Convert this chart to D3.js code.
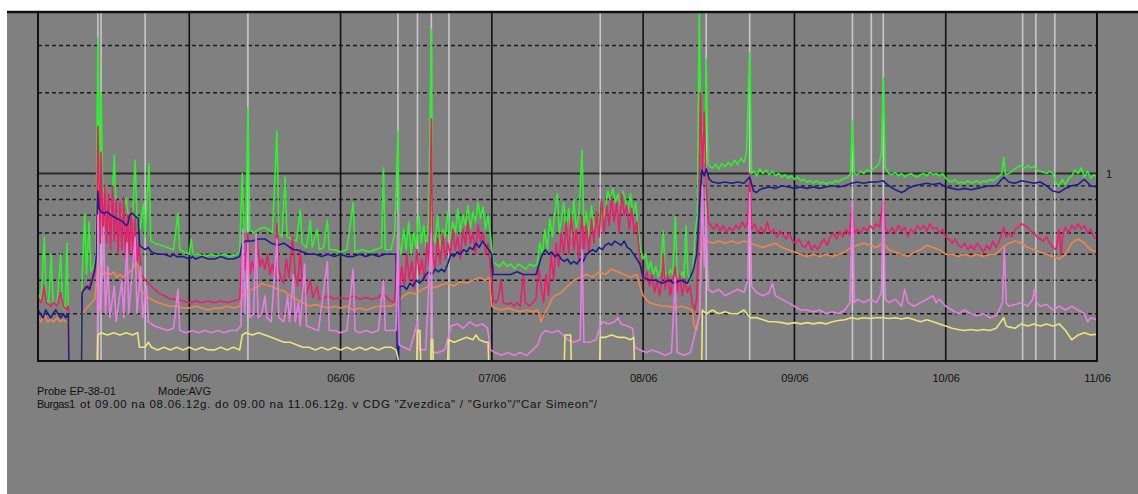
<!DOCTYPE html>
<html>
<head>
<meta charset="utf-8">
<script src="https://cdn.jsdelivr.net/npm/d3@7"></script>
<style>
  html, body { margin: 0; padding: 0; background: #ffffff; }
  svg { display: block; font-family: "Liberation Sans", Arial, sans-serif; }
</style>
</head>
<body>
<svg id="chart" width="1138" height="494"></svg>
<script>
// Probe EP-38-01, averaged readings, 04/06 – 11/06 (hours since 04/06 00:00, value)
const periodStart = "2012-06-04";
const dayTicks = ["2012-06-04", "2012-06-05", "2012-06-06", "2012-06-07", "2012-06-08", "2012-06-09", "2012-06-10", "2012-06-11"];
const dashedLevels = [0.3, 0.4, 0.5, 0.6, 0.7, 0.8, 0.9, 2, 3];
const refLevel = 1;
const refLabel = "1";
const markerHours = [9.5, 10.0, 17.0, 33.3, 57.1, 60.2, 62.4, 65.2, 89.2, 106.0, 112.9, 129.2, 132.2, 134.1, 156.2, 158.3, 161.3];
const captionLine1 = ["Probe EP-38-01", "Mode:AVG"];
const captionLine2 = ["Burgas1", "ot 09.00 na 08.06.12g. do 09.00 na 11.06.12g. v CDG \"Zvezdica\" / \"Gurko\"/\"Car Simeon\"/"];

const greenSeries = [[0,0.36],[0.5,0.34],[1.0,0.58],[1.3,0.34],[1.7,0.33],[2.1,0.5],[2.4,0.33],[3.0,0.32],[3.6,0.5],[3.9,0.32],[4.3,0.31],[4.6,0.55],[4.8,0.31],[4.9,0],[6.8,0],
[7.0,0.4],[7.4,0.71],[7.7,0.42],[8.1,0.66],[8.4,0.43],[8.8,0.45],[9.2,0.5],[9.5,3.2],[9.7,1.5],[9.85,0.8],[10.0,2.0],[10.3,0.8],[10.7,0.72],[11.2,0.7],[11.7,0.74],[12.1,1.17],[12.4,0.72],[13.0,0.68],[13.5,0.72],[14.0,0.81],[14.3,0.7],[15.0,0.68],[15.4,1.12],[15.7,0.7],[16.2,0.62],[16.7,0.77],[17.0,0.58],[17.6,1.09],[17.9,0.56],[18.5,0.55],[19.5,0.54],[20.5,0.53],[21.5,0.52],[22.2,0.71],[22.5,0.52],[23.2,0.51],[24.0,0.5],[24.3,0.57],[24.6,0.5],[25.5,0.5],[26.5,0.49],[27.5,0.5],[28.5,0.49],[29.5,0.5],[30.5,0.49],[31.5,0.5],[32.0,0.51],
[32.4,1.0],[32.7,0.6],[33.0,0.62],[33.3,1.76],[33.6,0.62],[34.2,0.6],[35,0.62],[35.8,0.63],[36.5,0.62],[37.2,0.6],[37.9,1.44],[38.2,0.6],[38.7,0.58],[39.2,0.97],[39.5,0.58],[40.2,0.57],[41.0,0.56],[41.6,0.73],[41.9,0.55],[42.6,0.53],[43.2,0.67],[43.5,0.53],[44.3,0.62],[44.6,0.52],[45.3,0.53],[45.9,0.67],[46.2,0.52],[47,0.52],[48,0.51],[49,0.52],[50,0.78],[50.3,0.51],[51.5,0.52],[52.5,0.51],[53.5,0.52],[54.5,0.53],[54.8,1.05],[55.1,0.52],[56,0.52],[56.6,0.6],[57.1,1.44],[57.3,0.55],
[57.6,0.5],[58.0,0.62],[58.4,0.52],[58.8,0.66],[59.2,0.5],[59.6,0.6],[60.0,0.53],[60.4,0.7],[60.8,0.55],[61.2,0.64],[61.6,0.52],[62.0,0.68],[62.4,3.45],[62.6,0.6],[63.0,0.55],[63.4,0.7],[63.8,0.52],[64.2,0.62],[64.6,0.58],[65.0,0.72],[65.4,0.56],[65.8,0.66],[66.2,0.6],[66.6,0.74],[67.0,0.6],[67.4,0.7],[67.8,0.64],[68.2,0.76],[68.6,0.62],[69.0,0.72],[69.4,0.66],[69.8,0.78],[70.2,0.68],[70.6,0.75],[71.0,0.62],[71.4,0.7],[71.8,0.58],[72.2,0.47],
[72.6,0.46],[73.2,0.45],[73.8,0.47],[74.4,0.45],[75.0,0.46],[75.6,0.44],[76.2,0.46],[76.8,0.45],[77.4,0.44],[78.0,0.46],[78.6,0.45],[79.2,0.46],[79.6,0.55],[80.0,0.5],[80.4,0.62],[80.8,0.52],[81.2,0.68],[81.6,0.58],[82.0,0.72],[82.4,0.84],[82.7,0.6],
[83.0,0.66],[83.4,0.78],[83.8,0.6],[84.2,0.74],[84.6,0.58],[85.0,0.8],[85.4,0.62],[85.8,0.7],[86.3,1.22],[86.6,0.64],[87.0,0.72],[87.4,0.58],[87.8,0.76],[88.2,0.62],[88.6,0.7],[89.0,0.6],[89.2,0.78],[89.6,0.66],[90.0,0.74],[90.4,0.86],[90.8,0.8],[91.2,0.88],[91.6,0.78],[92.0,0.84],[92.4,0.76],[92.8,0.86],[93.2,0.8],[93.6,0.72],[94.0,0.84],[94.4,0.7],[94.8,0.78],[95.2,0.62],[95.6,0.52],[96.0,0.48],[96.4,0.5],
[96.8,0.44],[97.2,0.47],[97.6,0.42],[98.0,0.45],[98.4,0.41],[98.8,0.44],[99.2,0.61],[99.5,0.43],[99.9,0.4],[100.3,0.44],[100.7,0.42],[101.1,0.69],[101.4,0.42],[101.8,0.4],[102.2,0.43],[102.5,0.41],[102.8,0.64],[103.1,0.42],[103.5,0.4],[103.9,0.44],[104.3,0.62],[104.6,0.7],[104.9,4.5],[105.2,1.2],[105.5,1.5],[105.8,1.1],[106.0,2.67],[106.3,1.08],[106.8,1.05],
[107.0,1.05],[107.5,1.08],[108.0,1.04],[108.5,1.09],[109.0,1.06],[109.5,1.1],[110.0,1.07],[110.5,1.12],[111.0,1.08],[111.5,1.14],[112.0,1.1],[112.4,1.2],[112.9,2.8],[113.2,1.0],[113.6,1.02],[114.0,0.98],[114.5,1.04],[115.0,1.0],[115.5,1.03],[116.0,0.99],[116.5,1.02],[117.0,0.98],[117.5,1.0],[118.0,0.97],[118.5,0.99],[119.0,0.96],[119.5,0.98],[120.0,0.95],[120.5,0.97],[121,0.94],[121.5,0.95],[122,0.93],[122.5,0.94],[123,0.92],[123.5,0.94],[124,0.92],[124.5,0.93],[125,0.91],[125.5,0.93],[126,0.92],[126.5,0.94],[127,0.93],[127.5,0.95],[128,0.96],[128.5,0.97],[128.9,1.0],[129.2,1.57],[129.5,1.0],[130,0.99],[130.5,1.02],[131,1.0],[131.5,1.03],[132,1.02],[132.5,1.04],[133,1.06],[133.5,1.1],[133.8,1.2],[134.1,2.27],[134.4,1.05],[135,1.0],[135.5,0.99],[136,1.01],[136.5,0.98],[137,1.0],[137.5,0.97],[138,0.99],[138.5,1.0],[139,0.98],[139.5,0.97],[140,0.99],
[140.5,1.0],[141,0.98],[141.5,1.01],[142,0.99],[142.5,1.0],[143,0.98],[143.5,1.0],[144,0.96],[144.5,0.94],[145,0.93],[145.5,0.95],[146,0.92],[146.5,0.93],[147,0.92],[147.5,0.94],[148,0.92],[148.5,0.93],[149,0.94],[149.5,0.92],[150,0.94],[150.5,0.93],[151,0.95],[151.5,0.94],[152,0.96],[152.5,0.98],[152.9,1.0],[153.2,1.15],[153.5,0.99],[154,1.0],[154.5,1.02],[155,1.04],[155.5,1.06],[156,1.07],[156.5,1.05],[157,1.07],[157.5,1.05],[158,1.06],[158.5,1.03],[159,1.02],[159.5,1.01],[160,1.0],[160.5,1.02],[161,1.0],[161.5,0.92],[162,0.9],[162.5,0.95],[163,0.91],[163.5,0.96],[164,0.98],[164.5,1.03],[165,1.0],[165.5,1.05],[166,0.97],[166.5,1.02],[167,0.96],[167.5,0.99],[168,0.97]];

const navySeries = [[0,0.31],[0.4,0.3],[0.8,0.29],[1.2,0.31],[1.6,0.3],[2.0,0.29],[2.4,0.3],[2.8,0.31],[3.2,0.3],[3.6,0.29],[4.0,0.3],[4.4,0.29],[4.8,0.3],[4.9,0],[6.9,0],[7.0,0.36],[7.4,0.37],[7.8,0.38],[8.2,0.37],[8.6,0.4],[9.0,0.44],[9.3,0.5],[9.5,0.86],[9.7,0.74],[10,0.72],[10.5,0.71],[11,0.72],[11.5,0.7],[12,0.69],[12.5,0.68],[13,0.67],[13.5,0.66],[14,0.64],[14.3,0.65],[14.5,0.7],[15,0.71],[15.5,0.69],[15.9,0.68],[16.1,0.54],[16.5,0.53],[17,0.52],[17.5,0.53],[18,0.51],[19,0.5],[20,0.5],[21,0.49],[21.5,0.5],[22,0.49],[23,0.49],[24,0.48],[24.5,0.49],[25,0.48],[26,0.49],[27,0.48],[28,0.48],[29,0.49],[30,0.48],[31,0.48],[32,0.49],
[32.4,0.55],[33,0.56],[34,0.56],[35,0.57],[36,0.57],[37,0.55],[38,0.54],[39,0.55],[40,0.53],[40.5,0.52],[41,0.52],[42,0.51],[43,0.5],[44,0.5],[45,0.49],[46,0.5],[47,0.49],[48,0.5],[49,0.49],[50,0.49],[51,0.5],[52,0.49],[53,0.5],[54,0.49],[55,0.5],[56,0.5],[56.8,0.5],[57.0,0],[57.2,0],[57.4,0.38],[58,0.38],[58.5,0.37],[59,0.39],[59.5,0.38],[60,0.4],[60.5,0.39],[61,0.4],[61.5,0.42],[62,0.43],[62.5,0.42],[63,0.44],[63.5,0.43],[64,0.44],[64.5,0.43],[65,0.46],[65.5,0.5],[66,0.49],[66.5,0.51],[67,0.5],[67.5,0.52],[68,0.51],[68.5,0.53],[69,0.52],[69.5,0.55],[70,0.53],[70.5,0.56],[71,0.54],[71.5,0.52],[72,0.5],[72.2,0.42],[73,0.42],[74,0.42],[75,0.42],[76,0.43],[77,0.42],[78,0.42],[79,0.42],[79.5,0.46],[80,0.5],[80.5,0.52],[81,0.5],[81.5,0.51],[82,0.49],[82.5,0.5],[83,0.48],[83.5,0.47],[84,0.48],[84.5,0.46],[85,0.47],[85.5,0.46],[86,0.48],[86.5,0.47],[87,0.5],[87.5,0.51],[88,0.52],[88.5,0.51],[89,0.53],[89.5,0.52],[90,0.54],[90.5,0.55],[91,0.54],[91.5,0.56],[92,0.55],[92.5,0.54],[93,0.56],[93.5,0.53],[94,0.52],[94.5,0.5],[95,0.48],[95.5,0.46],[96,0.41],[97,0.4],[98,0.4],[99,0.39],[100,0.4],[101,0.39],[102,0.4],[103,0.39],[103.5,0.41],[104,0.44],[104.5,0.5],[105,0.8],[105.3,1.03],[105.7,0.98],[106,1.04],[106.5,0.95],[107,0.93],[108,0.92],[109,0.93],[110,0.92],[111,0.93],[112,0.92],[112.9,0.97],[113.5,0.86],[114,0.85],[114.5,0.87],[115,0.88],[116,0.89],[117,0.88],[118,0.9],[119,0.89],[120,0.88],[121,0.89],[122,0.88],[123,0.89],[124,0.88],[125,0.89],[126,0.9],[127,0.89],[128,0.9],[129,0.92],[130,0.93],[131,0.92],[132,0.93],[133,0.93],[134,0.94],[135,0.9],[136,0.87],[137,0.85],[137.5,0.86],[138,0.88],[139,0.9],[140,0.91],[141,0.92],[142,0.91],[143,0.92],[144,0.89],[145,0.88],[146,0.87],[147,0.88],[148,0.87],[149,0.88],[150,0.89],[151,0.9],[152,0.9],[153.2,0.97],[154,0.93],[155,0.92],[156,0.94],[157,0.93],[158,0.92],[159,0.93],[160,0.9],[161,0.86],[162,0.85],[163,0.88],[164,0.9],[165,0.91],[166,0.95],[167,0.9],[168,0.89]];

const crimsonSeries = [[0,0.34],[0.5,0.33],[1.0,0.38],[1.3,0.33],[2,0.32],[2.5,0.33],[3,0.32],[3.6,0.36],[4,0.32],[4.5,0.31],[4.8,0.32],[4.9,0],[6.9,0],[7.0,0.36],[7.5,0.38],[8,0.37],[8.5,0.4],[9.0,0.42],[9.3,0.5],[9.5,1.5],[9.7,0.9],[9.9,0.55],[10.0,1.2],[10.3,0.6],[10.6,0.88],[10.9,0.55],[11.2,0.84],[11.5,0.52],[11.8,0.9],[12.1,0.56],[12.4,0.8],[12.7,0.5],[13.0,0.78],[13.3,0.52],[13.6,0.82],[13.9,0.48],[14.2,0.7],[14.5,0.5],[14.8,0.74],[15.1,0.47],[15.4,0.68],[15.7,0.46],[16.0,0.55],[16.4,0.42],[17,0.4],[17.5,0.39],[18,0.38],[19,0.36],[20,0.35],[21,0.34],[22,0.34],[23,0.335],[24,0.33],[25,0.335],[26,0.33],[27,0.335],[28,0.33],[29,0.335],[30,0.33],[31,0.335],[32,0.34],
[32.4,0.5],[32.8,0.44],[33.3,0.6],[33.6,0.42],[34,0.47],[34.4,0.43],[34.8,0.56],[35.2,0.45],[35.6,0.48],[36,0.44],[36.4,0.5],[36.8,0.42],[37.2,0.46],[37.6,0.41],[37.9,0.65],[38.2,0.44],[38.6,0.4],[39,0.39],[39.4,0.48],[39.8,0.41],[40.4,0.58],[40.8,0.42],[41.2,0.38],[41.6,0.52],[42,0.36],[42.5,0.35],[43.2,0.4],[43.6,0.345],[44.3,0.38],[44.6,0.34],[45.5,0.345],[46,0.35],[47,0.34],[48,0.345],[49,0.34],[50,0.35],[51,0.34],[52,0.345],[53,0.34],[54,0.345],[54.8,0.36],[55.5,0.34],[56.5,0.33],[57.1,0.5],[57.3,0.36],[57.7,0.45],[58.1,0.38],[58.5,0.5],[58.9,0.4],[59.3,0.47],[59.7,0.37],[60.1,0.52],[60.5,0.42],[60.9,0.48],[61.3,0.4],[61.7,0.55],[62.1,0.45],[62.4,1.6],[62.6,0.5],[63,0.44],[63.4,0.58],[63.8,0.46],[64.2,0.6],[64.6,0.48],[65,0.55],[65.4,0.5],[65.8,0.62],[66.2,0.52],[66.6,0.58],[67,0.48],[67.4,0.62],[67.8,0.54],[68.2,0.66],[68.6,0.55],[69,0.6],[69.4,0.5],[69.8,0.64],[70.2,0.56],[70.6,0.6],[71,0.5],[71.4,0.55],[71.8,0.45],[72.2,0.34],[72.6,0.33],[73,0.34],[73.5,0.4],[73.8,0.33],[74.5,0.325],[75,0.33],[75.5,0.32],[76,0.33],[76.5,0.32],[77,0.42],[77.3,0.33],[78,0.32],[78.5,0.33],[79,0.34],[79.4,0.45],[79.8,0.38],[80.2,0.33],[80.6,0.42],[81,0.35],[81.4,0.5],[81.8,0.4],[82.2,0.55],[82.6,0.45],[83,0.6],[83.4,0.5],[83.8,0.66],[84.2,0.5],[84.6,0.7],[85,0.52],[85.4,0.62],[85.8,0.48],[86.3,0.7],[86.6,0.52],[87,0.64],[87.4,0.5],[87.8,0.68],[88.2,0.55],[88.6,0.72],[89,0.58],[89.4,0.8],[89.8,0.6],[90.2,0.76],[90.6,0.64],[91,0.82],[91.4,0.66],[91.8,0.78],[92.2,0.6],[92.6,0.84],[93,0.7],[93.4,0.76],[93.8,0.62],[94.2,0.74],[94.6,0.6],[95,0.66],[95.4,0.5],[95.8,0.42],[96.2,0.4],[96.6,0.43],[97,0.38],[97.4,0.42],[97.8,0.36],[98.2,0.4],[98.6,0.35],[99,0.41],[99.2,0.5],[99.5,0.37],[99.9,0.42],[100.3,0.35],[100.7,0.4],[101.1,0.45],[101.4,0.36],[101.8,0.42],[102.2,0.35],[102.6,0.4],[103,0.36],[103.4,0.38],[103.8,0.33],[104.2,0.31],[104.5,0.34],[104.8,0.6],[105.1,2.0],[105.4,1.0],[105.7,1.7],[106,0.9],[106.3,0.66],[106.7,0.64],[107.2,0.62],[107.7,0.65],[108.2,0.61],[108.7,0.64],[109.2,0.6],[109.7,0.63],[110.2,0.61],[110.7,0.64],[111.2,0.62],[111.7,0.66],[112.2,0.63],[112.6,0.66],[112.9,1.0],[113.2,0.62],[113.7,0.65],[114.2,0.6],[114.7,0.63],[115.2,0.6],[115.7,0.66],[116.2,0.6],[116.7,0.62],[117.2,0.58],[117.7,0.61],[118.2,0.59],[118.7,0.57],[119.2,0.6],[119.7,0.56],[120.2,0.55],[120.7,0.57],[121.2,0.54],[121.7,0.53],[122.2,0.56],[122.7,0.52],[123.2,0.54],[123.7,0.52],[124.2,0.55],[124.7,0.57],[125.2,0.54],[125.7,0.58],[126.2,0.6],[126.7,0.57],[127.2,0.61],[127.7,0.58],[128.2,0.62],[128.7,0.59],[129.2,0.75],[129.5,0.6],[130,0.62],[130.5,0.6],[131,0.63],[131.5,0.61],[132,0.64],[132.5,0.62],[133,0.65],[133.5,0.63],[134.1,0.8],[134.4,0.62],[135,0.6],[135.5,0.63],[136,0.6],[136.5,0.64],[137,0.61],[137.5,0.63],[138,0.58],[138.5,0.62],[139,0.6],[139.5,0.64],[140,0.62],
[140.5,0.64],[141,0.61],[141.5,0.65],[142,0.62],[142.5,0.63],[143,0.6],[143.5,0.62],[144,0.58],[144.5,0.57],[145,0.55],[145.5,0.57],[146,0.54],[146.5,0.53],[147,0.55],[147.5,0.52],[148,0.54],[148.5,0.52],[149,0.55],[149.5,0.53],[150,0.51],[150.5,0.54],[151,0.52],[151.5,0.56],[152,0.53],[152.5,0.56],[153.2,0.63],[153.6,0.58],[154,0.6],[154.5,0.58],[155,0.62],[155.5,0.63],[156,0.65],[156.5,0.64],[157,0.63],[157.5,0.61],[158,0.6],[158.5,0.58],[159,0.57],[159.5,0.56],[160,0.58],[160.5,0.55],[161,0.53],[161.5,0.52],[162,0.62],[162.3,0.5],[162.6,0.6],[163,0.63],[163.5,0.6],[164,0.64],[164.5,0.62],[165,0.65],[165.5,0.62],[166,0.64],[166.5,0.6],[167,0.62],[167.5,0.58],[168,0.57]];

const orangeSeries = [[0,0.29],[0.5,0.28],[1,0.3],[1.5,0.28],[2,0.285],[2.5,0.28],[3,0.29],[3.5,0.28],[4,0.285],[4.5,0.28],[4.8,0.28],[4.9,0],[6.9,0],[7.0,0.3],[8,0.32],[9,0.34],[9.5,0.45],[10,0.44],[10.5,0.42],[11,0.43],[11.5,0.42],[12,0.43],[12.5,0.41],[13,0.42],[13.5,0.41],[14,0.42],[14.5,0.43],[15,0.44],[15.5,0.47],[15.9,0.45],[16.2,0.37],[16.6,0.36],[17,0.35],[18,0.34],[19,0.33],[20,0.325],[21,0.32],[22,0.32],[23,0.315],[24,0.315],[25,0.32],[26,0.315],[27,0.31],[28,0.315],[29,0.315],[30,0.32],[31,0.315],[32,0.32],[32.4,0.35],[33,0.36],[34,0.37],[35,0.38],[35.5,0.39],[36,0.385],[37,0.38],[38,0.37],[39,0.365],[40,0.35],[41,0.34],[42,0.33],[43,0.32],[44,0.325],[45,0.32],[46,0.315],[47,0.32],[48,0.315],[49,0.32],[50,0.31],[51,0.315],[52,0.31],[53,0.315],[54,0.32],[55,0.32],[56,0.32],[57,0.33],[58,0.35],[59,0.36],[60,0.355],[61,0.37],[62,0.38],[63,0.375],[64,0.385],[65,0.39],[66,0.38],[67,0.395],[68,0.39],[69,0.4],[70,0.41],[71,0.4],[71.6,0.41],[72,0.32],[72.5,0.315],[73.5,0.31],[74.5,0.315],[75.5,0.31],[76.5,0.305],[77.5,0.31],[78.5,0.305],[79.3,0.31],[79.8,0.28],[80.3,0.3],[81,0.32],[81.5,0.34],[82,0.35],[83,0.36],[84,0.38],[85,0.4],[86,0.41],[87,0.42],[88,0.41],[89,0.43],[90,0.42],[91,0.44],[92,0.43],[93,0.42],[94,0.41],[95,0.42],[95.5,0.38],[96,0.35],[96.5,0.34],[97,0.33],[98,0.325],[99,0.32],[100,0.32],[101,0.315],[102,0.32],[103,0.315],[103.8,0.31],[104.1,0.27],[104.5,0.26],[104.9,0.3],[105.3,0.55],[106,0.56],[107,0.55],[108,0.56],[109,0.55],[110,0.56],[111,0.55],[112,0.56],[113,0.55],[114,0.54],[115,0.53],[116,0.54],[117,0.55],[118,0.53],[119,0.52],[120,0.51],[121,0.5],[122,0.49],[123,0.5],[124,0.49],[125,0.5],[126,0.49],[127,0.5],[128,0.51],[129,0.53],[130,0.54],[131,0.55],[132,0.54],[133,0.53],[134,0.55],[135,0.52],[136,0.51],[137,0.5],[138,0.49],[139,0.51],[140,0.52],[141,0.54],[142,0.53],[143,0.52],[144,0.5],[145,0.5],[146,0.49],[147,0.5],[148,0.49],[149,0.5],[150,0.49],[151,0.5],[152,0.5],[153,0.53],[154,0.55],[155,0.56],[156,0.55],[157,0.53],[158,0.52],[159,0.51],[160,0.5],[161,0.49],[162,0.48],[163,0.5],[164,0.55],[165,0.57],[166,0.55],[167,0.52],[168,0.51]];

const violetSeries = [[0,0],[9.4,0],[9.5,0.7],[9.7,0.32],[10,0.3],[10.4,0.63],[10.7,0.3],[11.1,0.45],[11.4,0.29],[12.1,0.38],[12.4,0.28],[13.3,0.4],[13.6,0.29],[14.1,0.55],[14.4,0.3],[15.4,0.58],[15.7,0.3],[16.3,0.45],[16.6,0.29],[17.2,0.38],[17.5,0.28],[18.5,0.27],[19.5,0.265],[20.5,0.26],[21.5,0.265],[22.2,0.37],[22.5,0.26],[23.5,0.255],[24.5,0.26],[25.5,0.255],[26.5,0.26],[27.5,0.255],[28.5,0.26],[29.5,0.255],[30.5,0.26],[31.5,0.26],[32.2,0.27],[32.5,0.62],[32.8,0.3],[33.3,0.55],[33.6,0.29],[34.2,0.3],[34.6,0.6],[34.9,0.29],[35.5,0.3],[36,0.35],[36.3,0.29],[37,0.28],[37.9,0.57],[38.2,0.29],[39,0.28],[39.6,0.35],[39.9,0.28],[40.5,0.42],[40.8,0.28],[41.3,0.33],[41.6,0.27],[42.3,0.46],[42.6,0.27],[43.5,0.265],[44.5,0.26],[45.9,0.47],[46.2,0.26],[47,0.26],[48,0.255],[49,0.26],[50,0.44],[50.3,0.26],[51,0.255],[52,0.26],[53,0.255],[54,0.26],[54.8,0.4],[55.1,0.26],[56,0.26],[56.8,0.26],[57.1,0.73],[57.3,0.23],[58,0.225],[59,0.22],[60.2,0.28],[60.5,0.22],[61.5,0.22],[62.4,0.6],[62.6,0.215],[63.5,0.215],[64.5,0.22],[65.2,0.25],[65.5,0.27],[66.5,0.275],[67.5,0.265],[68.5,0.28],[69.5,0.27],[70.5,0.275],[71.3,0.265],[71.8,0.22],[72.5,0.215],[73.5,0.21],[74.5,0.215],[75.5,0.21],[76.5,0.215],[77.5,0.21],[78.5,0.22],[79.3,0.23],[79.8,0.25],[80.5,0.26],[81.5,0.255],[82.5,0.26],[83.3,0.25],[84,0.24],[85,0.235],[86,0.24],[86.3,0.52],[86.6,0.235],[87.5,0.235],[88.5,0.24],[89.2,0.27],[89.6,0.28],[90.5,0.275],[91.5,0.28],[92,0.29],[92.5,0.275],[93.5,0.27],[94.3,0.265],[94.7,0.225],[95.5,0.22],[96.5,0.215],[97.5,0.22],[98.5,0.215],[99.5,0.21],[100.5,0.215],[101.1,0.41],[101.4,0.215],[102.5,0.21],[103.5,0.215],[104,0.24],[104.5,0.27],[105,0.3],[105.4,0.9],[105.7,0.45],[106,0.7],[106.3,0.37],[107,0.36],[108,0.37],[109,0.35],[110,0.36],[111,0.37],[112,0.36],[112.6,0.4],[112.9,0.85],[113.2,0.38],[114,0.36],[115,0.35],[116,0.36],[116.5,0.39],[117,0.35],[118,0.34],[119,0.33],[120,0.32],[121,0.31],[122,0.31],[123,0.305],[124,0.31],[125,0.3],[126,0.305],[127,0.3],[128,0.31],[128.8,0.33],[129.2,0.79],[129.5,0.33],[130,0.34],[131,0.33],[132,0.34],[133,0.33],[133.8,0.36],[134.1,0.8],[134.4,0.34],[135,0.33],[136,0.34],[137,0.32],[137.5,0.37],[138,0.33],[139,0.32],[140,0.33],[141,0.34],[142,0.35],[142.5,0.33],[143,0.34],[144,0.32],[145,0.31],[146,0.3],[147,0.31],[148,0.3],[149,0.295],[150,0.3],[151,0.29],[152,0.295],[152.5,0.31],[153,0.33],[153.3,0.53],[153.6,0.33],[154,0.32],[155,0.325],[156,0.33],[157,0.32],[157.8,0.34],[158.1,0.37],[158.4,0.33],[159,0.32],[160,0.325],[161,0.31],[162,0.32],[163,0.31],[164,0.32],[165,0.31],[166,0.3],[166.5,0.28],[167,0.29],[168,0.285]];

const yellowSeries = [[0,0],[9.4,0],[9.5,0.25],[10,0.255],[11,0.25],[12,0.255],[13,0.25],[14,0.255],[15,0.25],[15.8,0.255],[16.1,0.225],[17,0.225],[17.5,0.235],[18,0.225],[19,0.22],[20,0.225],[21,0.22],[22,0.225],[23,0.22],[24,0.225],[25,0.22],[26,0.225],[27,0.22],[28,0.22],[29,0.225],[30,0.22],[31,0.225],[32,0.22],[32.4,0.25],[33,0.255],[34,0.25],[35,0.255],[36,0.25],[37,0.245],[38,0.24],[39,0.235],[40,0.235],[41,0.23],[42,0.225],[43,0.225],[44,0.22],[45,0.225],[46,0.22],[47,0.225],[48,0.22],[49,0.225],[50,0.22],[51,0.225],[52,0.22],[53,0.225],[54,0.22],[55,0.225],[56,0.225],[56.8,0.22],[57.2,0],[60.1,0],[60.2,0.26],[60.6,0.26],[60.7,0],[62.3,0],[62.4,0.24],[62.6,0.24],[62.7,0],[65.0,0],[65.1,0.24],[66,0.235],[67,0.24],[68,0.245],[69,0.24],[69.5,0.25],[70,0.24],[71,0.235],[71.4,0.235],[71.5,0],[83.5,0],[83.6,0.25],[84.5,0.25],[84.6,0],[89.1,0],[89.2,0.245],[90,0.245],[91,0.25],[92,0.245],[93,0.245],[94,0.24],[94.5,0.245],[94.6,0],[105.3,0],[105.4,0.31],[106,0.3],[107,0.31],[108,0.3],[109,0.305],[110,0.3],[111,0.3],[112,0.31],[113,0.29],[114,0.29],[115,0.285],[116,0.28],[117,0.28],[118,0.278],[119,0.275],[120,0.278],[121,0.275],[122,0.278],[123,0.275],[124,0.278],[125,0.275],[126,0.28],[127,0.283],[128,0.285],[129,0.29],[130,0.287],[131,0.29],[132,0.288],[133,0.29],[134,0.29],[135,0.288],[136,0.29],[137,0.287],[138,0.29],[139,0.285],[140,0.28],[141,0.285],[142,0.28],[143,0.275],[144,0.27],[145,0.265],[146,0.262],[147,0.26],[148,0.262],[149,0.26],[150,0.262],[151,0.26],[152,0.265],[153.2,0.29],[153.6,0.27],[154,0.268],[155,0.265],[156,0.275],[157,0.27],[158,0.275],[159,0.27],[160,0.275],[161,0.27],[162,0.275],[163,0.26],[164,0.24],[164.5,0.245],[165,0.25],[166,0.255],[167,0.25],[168,0.252]];

// drawing order: later series sit on top
const seriesList = [
  { name: "green", color: "#2ef02e", data: greenSeries },
  { name: "crimson", color: "#e8206c", data: crimsonSeries },
  { name: "orange", color: "#f0844a", data: orangeSeries },
  { name: "navy", color: "#1e1e8c", data: navySeries },
  { name: "violet", color: "#e67ee2", data: violetSeries },
  { name: "yellow", color: "#e6e67a", data: yellowSeries }
];

const W = 1138, H = 494;
const plot = { left: 38, right: 1097, top: 12, bottom: 361 };
const yMin = 0.2, yMax = 4;

const t0 = d3.utcParse("%Y-%m-%d")(periodStart).getTime();
const toDate = h => new Date(t0 + h * 3600e3);
const parseDay = d3.utcParse("%Y-%m-%d");
const tickDates = dayTicks.map(parseDay);

const x = d3.scaleUtc()
  .domain([tickDates[0], tickDates[tickDates.length - 1]])
  .range([plot.left, plot.right]);
const y = d3.scaleLog()
  .domain([yMin, yMax])
  .range([plot.bottom, plot.top])
  .clamp(true);

const svg = d3.select("#chart");

// panel background
svg.append("rect").attr("x", 7).attr("y", 11).attr("width", W - 7).attr("height", H - 11).attr("fill", "#808080");

svg.append("defs").append("clipPath").attr("id", "plotClip")
  .append("rect").attr("x", plot.left).attr("y", plot.top)
  .attr("width", plot.right - plot.left).attr("height", plot.bottom - plot.top);

// horizontal reference levels
svg.append("g").selectAll("line").data(dashedLevels).join("line")
  .attr("x1", plot.left).attr("x2", plot.right)
  .attr("y1", d => y(d)).attr("y2", d => y(d))
  .attr("stroke", "#1a1a1a").attr("stroke-width", 1.3)
  .attr("stroke-dasharray", "4,3");
svg.append("line")
  .attr("x1", plot.left).attr("x2", plot.right)
  .attr("y1", y(refLevel)).attr("y2", y(refLevel))
  .attr("stroke", "#2a2a2a").attr("stroke-width", 2);
svg.append("text")
  .attr("x", plot.right + 9).attr("y", y(refLevel) + 4)
  .attr("font-size", 11).attr("fill", "#111").text(refLabel);

// day separators
svg.append("g").selectAll("line").data(tickDates.slice(1, -1)).join("line")
  .attr("x1", d => x(d)).attr("x2", d => x(d))
  .attr("y1", plot.top).attr("y2", plot.bottom)
  .attr("stroke", "#111").attr("stroke-width", 1.6);

// event markers
svg.append("g").selectAll("line").data(markerHours).join("line")
  .attr("x1", d => x(toDate(d))).attr("x2", d => x(toDate(d)))
  .attr("y1", plot.top).attr("y2", plot.bottom)
  .attr("stroke", "#d4d4d4").attr("stroke-opacity", 0.85).attr("stroke-width", 1.6);

// series
const line = d3.line()
  .x(d => x(toDate(d[0])))
  .y(d => y(Math.max(d[1], yMin)));
svg.append("g").attr("clip-path", "url(#plotClip)")
  .selectAll("path").data(seriesList).join("path")
  .attr("d", s => line(s.data))
  .attr("fill", "none")
  .attr("stroke", s => s.color)
  .attr("stroke-width", 1.6)
  .attr("stroke-linejoin", "round");

// frame
svg.append("line").attr("x1", 7).attr("x2", W).attr("y1", plot.top).attr("y2", plot.top)
  .attr("stroke", "#111").attr("stroke-width", 2.5);
svg.append("line").attr("x1", plot.left).attr("x2", plot.left).attr("y1", plot.top).attr("y2", plot.bottom + 1)
  .attr("stroke", "#111").attr("stroke-width", 2);
svg.append("line").attr("x1", plot.right).attr("x2", plot.right).attr("y1", plot.top).attr("y2", plot.bottom + 1)
  .attr("stroke", "#111").attr("stroke-width", 2);
svg.append("line").attr("x1", plot.left).attr("x2", plot.right).attr("y1", plot.bottom).attr("y2", plot.bottom)
  .attr("stroke", "#111").attr("stroke-width", 2);

// date axis labels
const axis = d3.axisBottom(x)
  .tickValues(tickDates.slice(1))
  .tickFormat(d3.utcFormat("%d/%m"))
  .tickSize(0)
  .tickPadding(13);
const gAxis = svg.append("g").attr("transform", `translate(0,${plot.bottom})`).call(axis);
gAxis.select(".domain").remove();
gAxis.selectAll("text").attr("font-size", 11).attr("fill", "#111")
  .attr("font-family", "\"Liberation Sans\", Arial, sans-serif");

// caption lines
const cap = svg.append("g").attr("font-size", 11).attr("fill", "#111");
const captionPieces = [
  { text: captionLine1[0], x: 37, y: 395, size: 11, w: null },
  { text: captionLine1[1], x: 158, y: 395, size: 11, w: null },
  { text: captionLine2[0], x: 37, y: 408, size: 11, w: 38 },
  { text: captionLine2[1], x: 80, y: 408, size: 11.5, w: 517 }
];
cap.selectAll("text").data(captionPieces).join("text")
  .attr("x", d => d.x).attr("y", d => d.y)
  .attr("font-size", d => d.size)
  .attr("textLength", d => d.w)
  .attr("lengthAdjust", "spacing")
  .text(d => d.text);
</script>
</body>
</html>
